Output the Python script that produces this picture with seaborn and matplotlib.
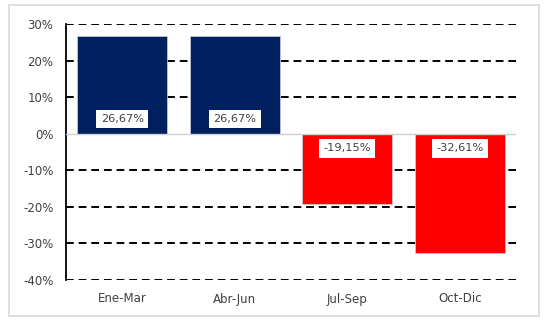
import matplotlib
matplotlib.use('Agg')
import matplotlib.pyplot as plt
import seaborn as sns
import pandas as pd
from matplotlib.patches import Rectangle

# data
periods = ['Ene-Mar', 'Abr-Jun', 'Jul-Sep', 'Oct-Dic']
values = [26.67, 26.67, -19.15, -32.61]
labels = ['26,67%', '26,67%', '-19,15%', '-32,61%']
yticks = [30, 20, 10, 0, -10, -20, -30, -40]

df = pd.DataFrame({'period': periods, 'value': values})
colors = ['#002060' if v >= 0 else '#FF0000' for v in values]

sns.set_style('white')
plt.rcParams['font.family'] = ['DejaVu Sans']

fig = plt.figure(figsize=(5.48, 3.24), dpi=100)
# outer light frame
fig.patches.append(Rectangle((9 / 548, 1 - 316 / 324), 530 / 548, 311 / 324,
                             transform=fig.transFigure, fill=False,
                             edgecolor='#d9d9d9', linewidth=1.2))
ax = fig.add_axes([66 / 548, 1 - 280 / 324, 450 / 548, 256 / 324])

sns.barplot(data=df, x='period', y='value', hue='period', palette=colors,
            legend=False, width=0.8, saturation=1, edgecolor='#c8d0e0',
            linewidth=0.5, ax=ax, zorder=3)

ax.set_ylim(-40, 30)
ax.set_xlim(-0.5, 3.5)
ax.set_yticks(yticks)
ax.set_yticklabels([f'{t}%' for t in yticks])
for t in yticks:
    if t != 0:
        ax.axhline(t, color='black', linestyle=(0, (4, 2.5)), linewidth=1.4, zorder=1)
ax.axhline(0, color='#d0d0d0', linewidth=1, zorder=4)

for i, (v, lab) in enumerate(zip(values, labels)):
    y = 4.0 if v >= 0 else -4.0
    ax.text(i, y, lab, ha='center', va='center', fontsize=8.2, color='#404040',
            zorder=5, bbox=dict(boxstyle='square,pad=0.38', facecolor='white',
                                edgecolor='none'))

ax.set_xlabel('')
ax.set_ylabel('')
for s in ['top', 'right', 'bottom']:
    ax.spines[s].set_visible(False)
ax.spines['left'].set_color('black')
ax.spines['left'].set_linewidth(1.3)
ax.tick_params(axis='both', length=0, labelsize=8.5, labelcolor='#404040')
ax.tick_params(axis='y', pad=9)
ax.tick_params(axis='x', pad=9)

fig.savefig('out.png', dpi=100)
